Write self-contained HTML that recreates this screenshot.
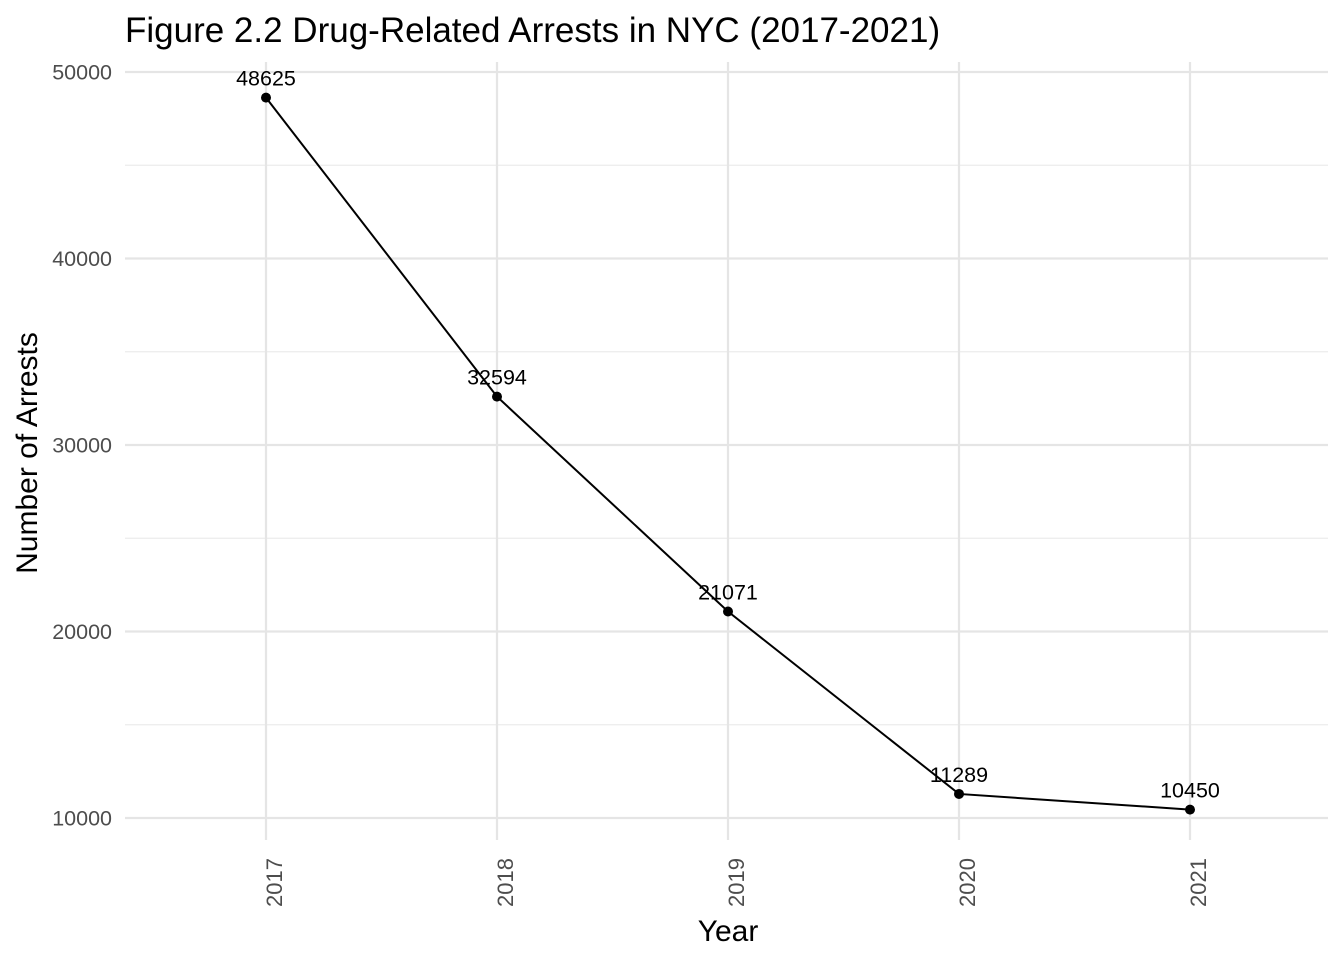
<!DOCTYPE html>
<html><head><meta charset="utf-8"><style>
body{margin:0;background:#fff;}
svg{display:block;font-family:"Liberation Sans",Arial,sans-serif;}
</style></head><body>
<svg id="chart" width="1344" height="960">
<text x="125" y="42" font-size="35" fill="#000">Figure 2.2 Drug-Related Arrests in NYC (2017-2021)</text>
<g id="grid"></g><g id="axes"></g><g id="marks"></g>
<text x="728" y="941" font-size="30" text-anchor="middle" fill="#000">Year</text>
<text transform="translate(37,453) rotate(-90)" font-size="30" text-anchor="middle" fill="#000">Number of Arrests</text>
</svg>
<script>
const years = ["2017","2018","2019","2020","2021"];
const arrests = [48625,32594,21071,11289,10450];
const yTicks = [10000,20000,30000,40000,50000];
const yMinor = [15000,25000,35000,45000];
const NS="http://www.w3.org/2000/svg";
function xS(i){return 266+i*231;}
function yS(v){return 818-(v-10000)/40000*746;}
function mk(tag,attrs,parent,text){const e=document.createElementNS(NS,tag);for(const k in attrs)e.setAttribute(k,attrs[k]);if(text!==undefined)e.textContent=text;document.getElementById(parent).appendChild(e);return e;}
yMinor.forEach(v=>{const l=mk('line',{x1:125,x2:1328,y1:yS(v),y2:yS(v),stroke:'#ebebeb','stroke-width':1.2},'grid');

});
yTicks.forEach(v=>{const l=mk('line',{x1:125,x2:1328,y1:yS(v),y2:yS(v),stroke:'#e5e5e5','stroke-width':2.2},'grid');


const t=mk('text',{x:112,y:yS(v)+7.5,'font-size':21.5,'text-anchor':'end',fill:'#4d4d4d'},'axes',String(v));

});
years.forEach((y,i)=>{const l=mk('line',{x1:xS(i),x2:xS(i),y1:62,y2:840,stroke:'#e5e5e5','stroke-width':2.2},'grid');


const t=mk('text',{transform:`translate(${xS(i)+16},858) rotate(-90)`,'font-size':22,'text-anchor':'end',fill:'#4d4d4d'},'axes',y);

});
const pts=arrests.map((v,i)=>xS(i)+','+yS(v)).join(' ');
const pl=mk('polyline',{points:pts,fill:'none',stroke:'#000','stroke-width':2},'marks');


arrests.forEach((v,i)=>{const c=mk('circle',{cx:xS(i),cy:yS(v),r:5,fill:'#000'},'marks');


const t=mk('text',{x:xS(i),y:yS(v)-12,'font-size':21.5,'text-anchor':'middle',fill:'#000'},'marks',String(v));

});
</script>
</body></html>
